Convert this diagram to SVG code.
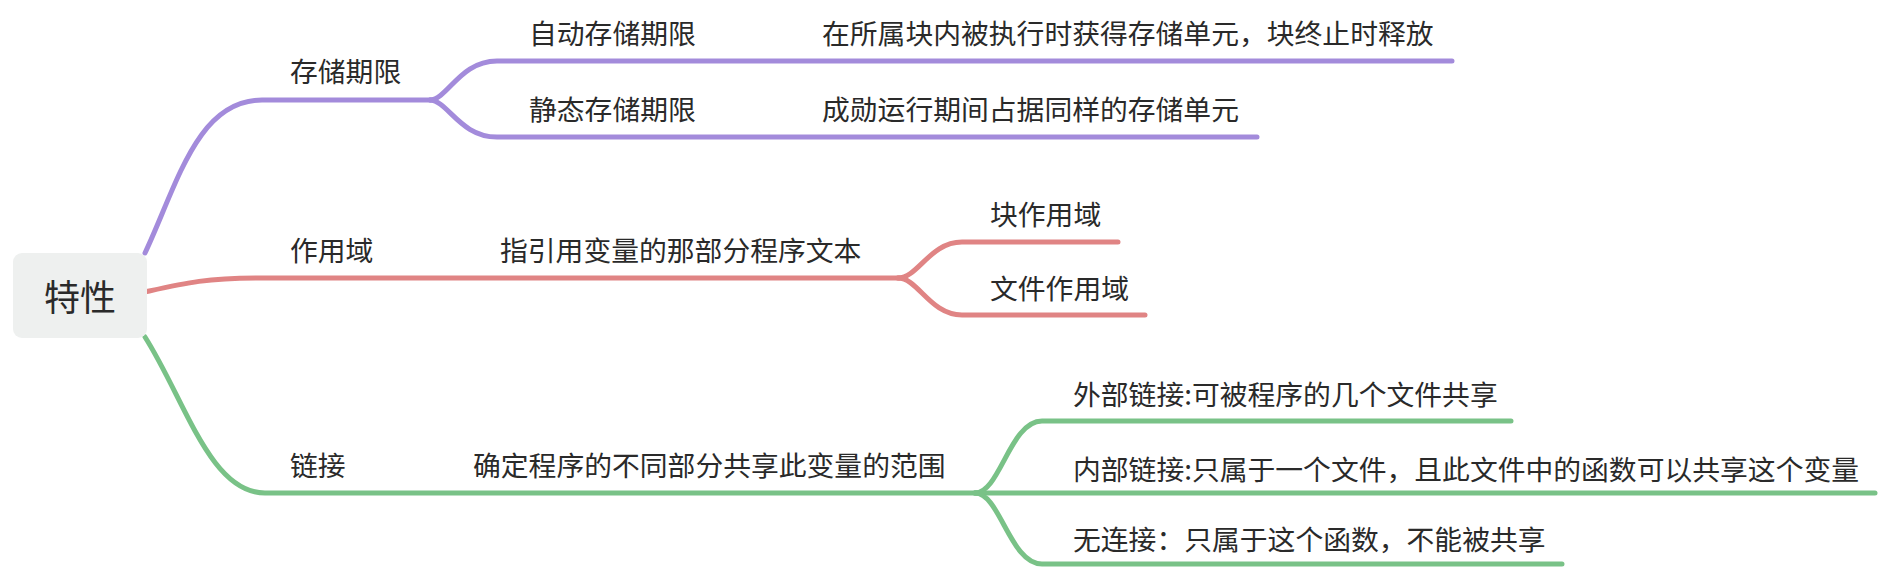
<svg xmlns="http://www.w3.org/2000/svg" width="1888" height="570" viewBox="0 0 1888 570">
<style>
text{font-family:"Noto Sans CJK SC","Noto Sans",sans-serif;fill:#2a2a2a;dominant-baseline:central;}
.t{font-size:27.8px;}
.root{font-size:36px;text-anchor:middle;}
.c{fill:none;stroke-width:5;stroke-linecap:round;stroke-linejoin:round;}
.p{stroke:#a38bdb;}
.r{stroke:#e08484;}
.g{stroke:#79c287;}
</style>
<rect width="1888" height="570" fill="#ffffff"/>
<g id="connectors">
<path class="c p" d="M145,253 C177,185 197,100 262,100 L433,100"/>
<path class="c p" d="M430,100 C448,99 460,61 497,61 L1452,61"/>
<path class="c p" d="M430,100 C448,101 460,137 497,137 L1257,137"/>
<path class="c r" d="M145,292 C185,283 205,278 262,278 L900,278"/>
<path class="c r" d="M898,278 C918,278 930,242 962,242 L1118,242"/>
<path class="c r" d="M898,278 C918,278 930,315 962,315 L1145,315"/>
<path class="c g" d="M145,337 C185,400 210,493 265,493 L977,493"/>
<path class="c g" d="M975,493 C1000,493 1010,421 1042,421 L1511,421"/>
<path class="c g" d="M975,493 L1875,493"/>
<path class="c g" d="M975,493 C1000,493 1010,564 1042,564 L1562,564"/>
</g>
<g id="root"><rect x="13" y="253" width="134" height="85" rx="9" fill="#eef0ef"/><text class="root" x="80" y="295">特性</text></g>
<g id="n-storage"><text class="t" x="290" y="70">存储期限</text></g>
<g id="n-auto"><text class="t" x="529" y="32">自动存储期限</text></g>
<g id="n-auto-desc"><text class="t" x="822" y="32">在所属块内被执行时获得存储单元，块终止时释放</text></g>
<g id="n-static"><text class="t" x="529" y="108">静态存储期限</text></g>
<g id="n-static-desc"><text class="t" x="822" y="108">成勋运行期间占据同样的存储单元</text></g>
<g id="n-scope"><text class="t" x="290" y="249">作用域</text></g>
<g id="n-scope-desc"><text class="t" x="500" y="249">指引用变量的那部分程序文本</text></g>
<g id="n-block"><text class="t" x="990" y="213">块作用域</text></g>
<g id="n-file"><text class="t" x="990" y="287">文件作用域</text></g>
<g id="n-link"><text class="t" x="290" y="464">链接</text></g>
<g id="n-link-desc"><text class="t" x="473" y="464">确定程序的不同部分共享此变量的范围</text></g>
<g id="n-ext"><text class="t" x="1073" y="393">外部链接:可被程序的几个文件共享</text></g>
<g id="n-int"><text class="t" x="1073" y="468">内部链接:只属于一个文件，且此文件中的函数可以共享这个变量</text></g>
<g id="n-none"><text class="t" x="1073" y="538">无连接：只属于这个函数，不能被共享</text></g>
</svg>
